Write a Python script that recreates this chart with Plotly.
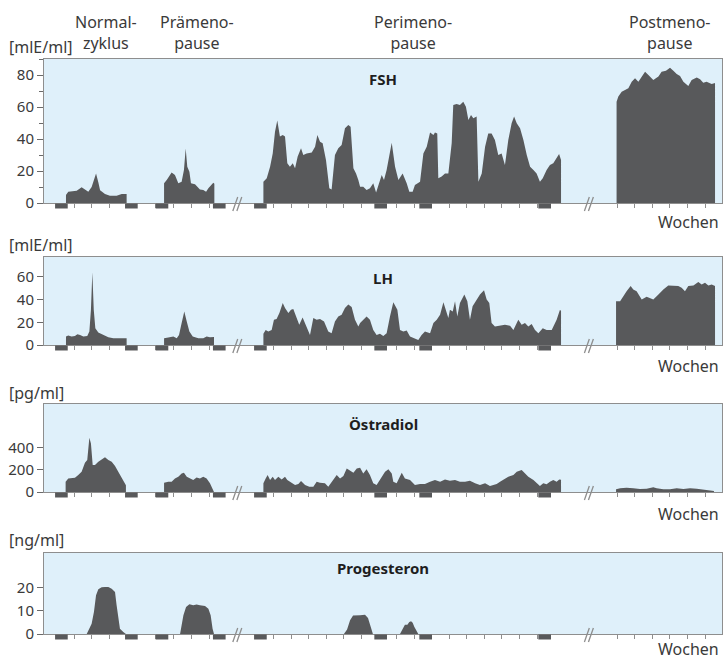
import plotly.graph_objects as go

# ---------------- data (x in weeks, y in hormone units) ----------------
FSH_X = [
    [1.25, 1.38, 1.57, 1.86, 2.14, 2.39, 2.52, 2.71, 2.96, 3.09, 3.19, 3.47, 3.75, 4.13, 4.42, 4.66, 4.70],
    [6.83, 6.98, 7.26, 7.45, 7.64, 7.83, 7.96, 8.06, 8.15, 8.27, 8.36, 8.59, 8.87, 9.06, 9.22, 9.35, 9.63, 9.69],
    [12.48, 12.67, 12.86, 13.01, 13.14, 13.27, 13.42, 13.58, 13.71, 13.84, 13.99, 14.15, 14.28, 14.43, 14.62,
     14.75, 14.94, 15.23, 15.42, 15.55, 15.70, 15.85, 16.04, 16.23, 16.36, 16.55, 16.74, 16.93, 17.12, 17.31,
     17.44, 17.60, 17.75, 17.88, 17.98,
     18.16, 18.35, 18.54, 18.73, 18.89, 19.02, 19.21, 19.34, 19.49, 19.78, 19.97, 20.16, 20.40, 20.63, 20.78,
     20.97, 21.10, 21.39, 21.58, 21.77, 21.96, 22.15, 22.24, 22.37, 22.43, 22.62, 22.81, 23.00, 23.19, 23.28,
     23.47, 23.66, 23.85, 24.00, 24.14, 24.29, 24.42, 24.61, 24.71, 24.90, 25.09, 25.27, 25.46, 25.65, 25.84,
     26.03, 26.22, 26.41, 26.60, 26.74, 26.89, 27.08, 27.27, 27.46, 27.65, 27.84, 28.02, 28.21, 28.37, 28.59,
     28.78, 28.97, 29.16, 29.30, 29.41],
    [32.57, 32.67, 32.86, 33.05, 33.24, 33.43, 33.62, 33.81, 34.00, 34.19, 34.38, 34.66, 34.95, 35.13, 35.38,
     35.61, 35.80, 35.99, 36.18, 36.37, 36.65, 36.84, 37.13, 37.32, 37.50, 37.69, 37.98, 38.13, 38.17],
]
FSH_Y = [
    [5, 7, 7.3, 7.7, 9.8, 8, 7, 10, 18.5, 13, 8, 5.6, 4.6, 4.6, 5.6, 5.6, 5.6],
    [12.3, 14.4, 19, 17.5, 12.3, 13.3, 20.6, 34, 22.7, 19.6, 12.3, 11.7, 8.5, 8.1, 7.1, 9.2, 12.7, 12],
    [13.3, 15.4, 22.7, 31, 44.6, 51.5, 41.5, 42.5, 41.5, 24.8, 22.7, 24.8, 21.7, 29, 34.2,
     30, 31, 31.5, 35.2, 42.5, 38.3, 37.3, 26.9, 9.2, 8.5, 30, 34.2, 36.2, 46.7, 48.7,
     47.7, 21.7, 18.5, 14.4, 10.2,
     10.2, 8.1, 9.2, 12.3, 6.5, 11.2, 17.5, 14.4, 20.6, 37.7, 22.7, 14.4, 18.5, 12.3, 7.1,
     7.1, 11.2, 13.3, 31, 35.2, 44, 42.5, 44, 43.5, 15.4, 16.5, 18.5, 18.5, 37.3, 61.2,
     61.9, 61.2, 63.3, 60.2, 51.9, 55, 52.9, 54, 13.3, 18.5, 35.2, 43.5, 43.5, 39.4, 30,
     31, 23.7, 39.4, 49.8, 54, 49.8, 46.7, 39.4, 30, 22.7, 20.6, 18.5, 13.3, 15.4, 20.6,
     23.7, 24.8, 27.9, 30.6, 26.9],
    [63.3, 66.5, 69.6, 70.6, 71.7, 75.8, 77.9, 75.8, 79.4, 82.1, 80, 76.9, 79, 82.1, 82.7,
     84.6, 82.7, 80.6, 79.4, 75.8, 73.1, 76.9, 78.5, 77.3, 75.2, 75.8, 74.4, 75.2, 75],
]

LH_X = [
    [1.25, 1.38, 1.57, 1.76, 1.90, 2.05, 2.24, 2.46, 2.58, 2.67, 2.75, 2.83, 2.92, 3.09, 3.38, 3.66, 3.94, 4.32, 4.66, 4.70],
    [6.83, 7.07, 7.36, 7.55, 7.68, 7.83, 7.98, 8.12, 8.27, 8.46, 8.78, 9.06, 9.25, 9.44, 9.63, 9.67],
    [12.48, 12.61, 12.76, 12.95, 13.08, 13.23, 13.39, 13.58, 13.71, 13.90, 14.05, 14.18, 14.37, 14.52, 14.71,
     14.90, 15.13, 15.32, 15.51, 15.70, 15.93, 16.17, 16.36, 16.55, 16.74, 16.93, 17.12, 17.31, 17.50, 17.69,
     17.88, 17.98,
     18.16, 18.35, 18.54, 18.73, 18.92, 19.11, 19.30, 19.49, 19.68, 19.87, 20.10, 20.25, 20.44, 20.63, 20.82,
     21.01, 21.29, 21.48, 21.67, 21.96, 22.15, 22.34, 22.53, 22.72, 22.87, 23.00, 23.09, 23.25, 23.38, 23.51,
     23.66, 23.91, 24.08, 24.23, 24.38, 24.57, 24.80, 25.03, 25.18, 25.33, 25.46, 25.65, 25.94, 26.22, 26.51,
     26.70, 26.98, 27.17, 27.36, 27.55, 27.74, 27.93, 28.12, 28.37, 28.59, 28.88, 29.16, 29.35, 29.41],
    [32.54, 32.77, 32.95, 33.14, 33.37, 33.52, 33.71, 34.00, 34.28, 34.47, 34.66, 34.95, 35.23, 35.51, 35.80,
     36.08, 36.27, 36.46, 36.65, 36.94, 37.22, 37.41, 37.60, 37.79, 37.98, 38.13, 38.17],
]
LH_Y = [
    [7.4, 8.3, 7.4, 8, 9.5, 8.9, 7.4, 8, 11.9, 31, 64, 31, 14.8, 11, 8.9, 6.8, 5.9, 5.9, 5.9, 5.9],
    [5.9, 6.5, 7.4, 5.9, 8.9, 19.3, 29.6, 20.7, 11.9, 7.4, 5.9, 5.9, 7.4, 6.8, 7.4, 7],
    [9.8, 13.3, 11.9, 13.3, 22.2, 22.8, 28.1, 37, 32.6, 28.1, 31.1, 31.7, 23.7, 17.8, 24.3,
     17.8, 8.9, 23.7, 22.2, 22.8, 20.7, 11.9, 10.4, 20.7, 25.2, 26.7, 32.6, 35.6, 33.5, 22.2,
     16.3, 19.3,
     22.2, 25.2, 22.2, 13.3, 8.9, 9.8, 8, 10.4, 25.2, 37.6, 31.1, 13.3, 11.9, 12.7, 7.4,
     5.9, 4.4, 8.9, 11.9, 10.4, 19.3, 22.2, 26.7, 37.6, 29.6, 23.7, 31.1, 29.6, 38.5, 25.2,
     37, 44.4, 38.5, 22.2, 34.1, 38.5, 44.4, 48.3, 40, 37, 19.3, 16.3, 16.9, 17.8, 16.9,
     13.3, 22.2, 17.8, 19.3, 16.3, 18.4, 13.3, 10.4, 14.8, 13.3, 13.3, 22.2, 31.1, 30],
    [38.5, 38.5, 43, 47.4, 51.9, 48.9, 47.4, 40, 42.4, 41.5, 40, 44.4, 48.9, 52.4, 52.4,
     51.9, 50.4, 47.4, 51.9, 52.4, 55.4, 53.3, 54.8, 52.4, 53.3, 52.4, 52],
]

E2_X = [
    [1.23, 1.38, 1.57, 1.76, 1.95, 2.14, 2.33, 2.46, 2.58, 2.67, 2.77, 2.90, 3.09, 3.28, 3.47, 3.66, 3.85,
     4.04, 4.23, 4.42, 4.61, 4.66],
    [6.83, 7.07, 7.26, 7.45, 7.64, 7.83, 7.96, 8.12, 8.30, 8.49, 8.68, 8.87, 9.06, 9.25, 9.44, 9.63, 9.67],
    [12.48, 12.61, 12.72, 12.86, 13.01, 13.14, 13.33, 13.52, 13.71, 13.84, 14.09, 14.28, 14.47, 14.62, 14.85,
     15.09, 15.32, 15.51, 15.70, 15.98, 16.17, 16.36, 16.65, 16.84, 17.03, 17.22, 17.41, 17.60, 17.79, 17.98,
     18.16, 18.35, 18.54, 18.73, 18.92, 19.11, 19.40, 19.59, 19.78, 19.87, 20.06, 20.35, 20.53, 20.82, 21.10,
     21.39, 21.67, 21.96, 22.24, 22.53, 22.81, 23.09, 23.38, 23.66, 23.95, 24.23, 24.52, 24.80, 25.09, 25.37,
     25.56, 25.75, 25.94, 26.13, 26.41, 26.70, 26.89, 27.17, 27.36, 27.55, 27.84, 28.02, 28.21, 28.40, 28.59,
     28.78, 28.97, 29.16, 29.31, 29.41],
    [32.54, 32.77, 33.14, 33.52, 33.90, 34.28, 34.66, 34.85, 35.23, 35.61, 35.99, 36.37, 36.75, 37.13, 37.50,
     37.88, 38.07, 38.11],
]
E2_Y = [
    [93, 123, 123, 129, 153, 183, 265, 289, 490, 439, 244, 244, 274, 295, 313, 289, 274, 235, 183, 123, 78, 60],
    [84, 93, 93, 123, 138, 168, 174, 138, 123, 108, 132, 123, 138, 123, 78, 18, 5],
    [78, 123, 153, 108, 138, 108, 138, 114, 138, 108, 78, 63, 72, 99, 63,
     48, 48, 93, 84, 78, 48, 93, 153, 123, 144, 213, 193, 174, 213, 220,
     168, 205, 153, 78, 63, 108, 183, 205, 168, 93, 78, 174, 123, 108, 63,
     72, 72, 93, 108, 93, 114, 102, 108, 93, 93, 102, 78, 63, 78, 54,
     63, 72, 93, 114, 138, 153, 183, 199, 168, 138, 108, 78, 54, 78, 69,
     93, 108, 93, 114, 110],
    [24, 33, 39, 33, 27, 30, 42, 33, 24, 24, 33, 27, 33, 30, 24, 18, 12, 10],
]

P4_X = [
    [2.43, 2.58, 2.71, 2.84, 2.96, 3.09, 3.28, 3.47, 3.66, 3.85, 4.04, 4.13, 4.23, 4.32, 4.51, 4.66],
    [7.74, 7.83, 7.93, 8.08, 8.27, 8.49, 8.68, 8.87, 9.16, 9.35, 9.48, 9.59, 9.67],
    [17.06, 17.24, 17.41, 17.58, 17.98, 18.26, 18.43, 18.54, 18.64, 18.71],
    [20.25, 20.40, 20.53, 20.67, 20.78, 20.88, 20.97, 21.07, 21.20, 21.29],
]
P4_Y = [
    [0, 2.3, 4.5, 9.6, 16.8, 19.4, 20.3, 20.4, 20.4, 19.7, 18.3, 12.5, 6.7, 2.3, 0.9, 0.1],
    [0, 3.8, 8.1, 11.7, 12.9, 12.5, 12.8, 12.5, 12.2, 11, 8.1, 2.3, 0],
    [0, 2, 6, 8, 8.1, 8.4, 7, 3.8, 0.9, 0],
    [0, 2.3, 4, 4, 5.2, 5.5, 4.9, 3, 0.9, 0],
]

# menstruation bars (start week) and their length in weeks
MENSES_START = [0.63, 4.61, 6.35, 9.61, 11.95, 18.79, 21.35, 28.12]
MENSES_LEN = 0.72
# week ticks on the time axis
WEEK_TICKS = ([0.72, 1.72, 2.72, 3.72, 4.72] + [6.35, 7.37, 8.40, 9.43]
              + [12.05 + k for k in range(17)] + [32.6 + k for k in range(6)])
# axis breaks (weeks)
BREAKS = [11.0, 31.0]

PHASES = ["Normal-<br>zyklus", "Prämeno-<br>pause", "Perimeno-<br>pause", "Postmeno-<br>pause"]
TITLES = ["FSH", "LH", "Östradiol", "Progesteron"]
UNITS = ["[mlE/ml]", "[mlE/ml]", "[pg/ml]", "[ng/ml]"]
Y_TICKS = [[0, 20, 40, 60, 80], [0, 20, 40, 60], [0, 200, 400], [0, 10, 20]]
Y_MAX = [90, 77.5, 795, 35.2]

# ---------------- layout geometry ----------------
W, H = 723, 659
LEFT, RIGHT = 44, 722
PX_PER_WEEK = 17.58
X_MAX = (RIGHT - LEFT) / PX_PER_WEEK
DARK = "#58595b"
BG = "#dff0fa"
FRAME = "#8e8e8e"
TXT = "#3a3a3a"
FONT = "Noto Sans"

PANEL_TOP = [59, 257, 404, 553]
PANEL_ZERO = [203, 345, 492, 634]
UNIT_Y = [47, 245, 393, 540]
TITLE_Y = [79, 278, 424, 568]
WOCHEN_Y = [222, 366, 514, 649]
PHASE_X = [106, 197, 413, 670]


def yp(py):
    return 1 - py / H


def xp(px):
    return (px - LEFT) / (RIGHT - LEFT)


fig = go.Figure()
layout = dict(
    width=W, height=H,
    margin=dict(l=LEFT, r=W - RIGHT, t=0, b=0, pad=0),
    paper_bgcolor="white", plot_bgcolor=BG,
    showlegend=False,
    font=dict(family=FONT, color=TXT, size=15),
)
shapes = []
annotations = []

series = [(FSH_X, FSH_Y), (LH_X, LH_Y), (E2_X, E2_Y), (P4_X, P4_Y)]

for i, (sxs, sys_) in enumerate(series):
    suf = "" if i == 0 else str(i + 1)
    xa, ya = "x" + suf, "y" + suf
    for sx, sy in zip(sxs, sys_):
        xs = [sx[0]] + list(sx) + [sx[-1]]
        ys = [0] + list(sy) + [0]
        fig.add_trace(go.Scatter(
            x=xs, y=ys, xaxis=xa, yaxis=ya, mode="lines", fill="toself",
            fillcolor=DARK, line=dict(width=0, color=DARK), hoverinfo="skip"))
    layout["xaxis" + suf] = dict(
        domain=[0, 1], anchor=ya, range=[0, X_MAX], showgrid=False, zeroline=False,
        showline=True, mirror=True, linecolor=FRAME, linewidth=1,
        tickmode="array", tickvals=WEEK_TICKS, ticks="outside", ticklen=4,
        tickcolor=FRAME, tickwidth=1, showticklabels=False, automargin=False, fixedrange=True)
    yax = dict(
        domain=[yp(PANEL_ZERO[i]), yp(PANEL_TOP[i])], anchor=xa, range=[0, Y_MAX[i]],
        showgrid=False, zeroline=False, showline=True, mirror=True, linecolor=FRAME, linewidth=1,
        tickmode="array", tickvals=Y_TICKS[i], ticks="outside", ticklen=6, tickcolor="#6a6a6a",
        tickwidth=1, tickfont=dict(family=FONT, size=15, color=TXT), automargin=False, fixedrange=True)
    if i == 0:
        yax["minor"] = dict(tickmode="linear", tick0=0, dtick=10, ticks="outside", ticklen=4,
                            tickcolor="#6a6a6a", tickwidth=1, showgrid=False)
    layout["yaxis" + suf] = yax

    z = PANEL_ZERO[i]
    for s in MENSES_START:
        shapes.append(dict(type="rect", xref=xa, yref="paper", x0=s, x1=s + MENSES_LEN,
                           y0=yp(z + 5.5), y1=yp(z + 0.5), fillcolor=DARK,
                           line=dict(width=0), layer="above"))
    for b in BREAKS:
        for off in (-0.23, 0.0):
            shapes.append(dict(type="line", xref=xa, yref="paper",
                               x0=b + off - 0.03, y0=yp(z + 8), x1=b + off + 0.25, y1=yp(z - 6),
                               line=dict(color=FRAME, width=1.3), layer="above"))

    annotations.append(dict(text=UNITS[i], xref="paper", yref="paper", x=xp(7), y=yp(UNIT_Y[i]),
                            xanchor="left", yanchor="middle", showarrow=False,
                            font=dict(family=FONT, size=16, color=TXT)))
    annotations.append(dict(text="<b>" + TITLES[i] + "</b>", xref="paper", yref="paper",
                            x=xp(383), y=yp(TITLE_Y[i]), xanchor="center", yanchor="middle",
                            showarrow=False, font=dict(family=FONT, size=15, color="#1e1e1e")))
    annotations.append(dict(text="Wochen", xref="paper", yref="paper", x=xp(721), y=yp(WOCHEN_Y[i]),
                            xanchor="right", yanchor="middle", showarrow=False,
                            font=dict(family=FONT, size=16, color=TXT)))

for label, cx in zip(PHASES, PHASE_X):
    annotations.append(dict(text=label, xref="paper", yref="paper", x=xp(cx), y=yp(32.5),
                            xanchor="center", yanchor="middle", showarrow=False, align="center",
                            font=dict(family=FONT, size=16, color=TXT)))

layout["shapes"] = shapes
layout["annotations"] = annotations
fig.update_layout(**layout)
fig.write_html(
    "out.html",
    config={"displayModeBar": False, "staticPlot": True},
    post_script="document.body.style.margin='0';document.body.style.padding='0';"
                "document.body.style.overflow='hidden';",
)
